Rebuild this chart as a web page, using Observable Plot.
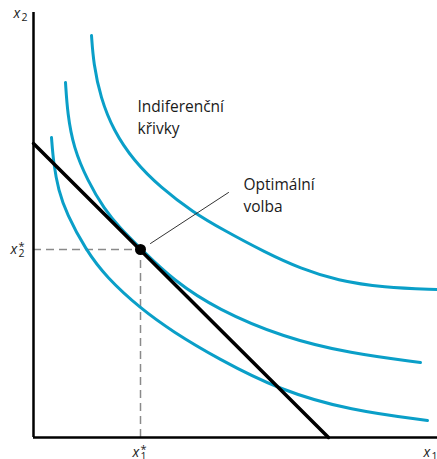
<!DOCTYPE html>
<html><head><meta charset="utf-8">
<script src="https://cdn.jsdelivr.net/npm/d3@7"></script>
<script src="https://cdn.jsdelivr.net/npm/@observablehq/plot@0.6"></script>
<style>body{margin:0;background:#fff}</style>
</head><body><div id="chart"></div>
<script>
// Indifference curves (arbitrary units)
const highX = [58, 60, 67, 80, 100, 127, 160, 189, 232, 267, 304, 350, 404];
const highY = [402, 374, 340, 307, 277, 250, 225, 208, 185, 169, 157, 150, 148];
const midX = [32, 34, 40, 54, 71, 86, 107, 140, 184, 250, 317, 387];
const midY = [355, 324, 290, 257, 228, 210, 189, 157, 128, 100, 84, 75];
const lowX = [18, 20, 25, 33, 52, 73, 107, 139, 184, 247, 317, 394];
const lowY = [300, 274, 247, 224, 188, 160, 129, 106, 79, 47, 27, 17];
// Budget line
const budgetX = [0, 295];
const budgetY = [294, 0];
// Optimum
const optX = 107, optY = 188;
// Texts
const annoText = ["Indiferenční", "křivky", "Optimální", "volba"];
const annoX = [104, 104, 210, 210];
const annoY = [326, 304, 248, 226];
const leaderX = [117, 195];
const leaderY = [194, 245];
const axisLabels = [
  {base: "x", sub: "2", sup: "", x: -20, y: 420},
  {base: "x", sub: "2", sup: "*", x: -23, y: 184},
  {base: "x", sub: "1", sup: "*", x: 99, y: -19},
  {base: "x", sub: "1", sup: "", x: 390, y: -19}
];

const curves = [];
[[highX, highY, "high"], [midX, midY, "mid"], [lowX, lowY, "low"]].forEach(([xs, ys, k]) =>
  xs.forEach((x, i) => curves.push({x, y: ys[i], k})));
const budget = budgetX.map((x, i) => ({x, y: budgetY[i]}));
const anno = annoText.map((t, i) => ({t, x: annoX[i], y: annoY[i]}));
const leader = leaderX.map((x, i) => ({x, y: leaderY[i]}));

const FONT = "'Open Sans', sans-serif";
const BLUE = "#0a9fc8";

const chart = Plot.plot({
  width: 437, height: 459,
  marginLeft: 33, marginRight: 0, marginTop: 12, marginBottom: 22,
  x: {domain: [0, 404], axis: null},
  y: {domain: [0, 425], axis: null},
  style: {background: "#fff", fontFamily: FONT, overflow: "visible"},
  marks: [
    Plot.ruleY([optY], {x1: 0, x2: optX, stroke: "#8a8a8a", strokeWidth: 1.5, strokeDasharray: "8,5"}),
    Plot.ruleX([optX], {y1: 0, y2: optY, stroke: "#8a8a8a", strokeWidth: 1.5, strokeDasharray: "8,5"}),
    Plot.line(curves, {x: "x", y: "y", z: "k", stroke: BLUE, strokeWidth: 3, curve: "basis"}),
    Plot.line(budget, {x: "x", y: "y", stroke: "#000", strokeWidth: 3.5}),
    Plot.line(leader, {x: "x", y: "y", stroke: "#333", strokeWidth: 1}),
    Plot.dot([{x: optX, y: optY}], {x: "x", y: "y", r: 5.5, fill: "#000"}),
    Plot.ruleX([0], {y1: 0, y2: 425, stroke: "#000", strokeWidth: 2.5}),
    Plot.ruleY([0], {x1: 0, x2: 404, stroke: "#000", strokeWidth: 2.5}),
    Plot.text(anno, {x: "x", y: "y", text: "t", textAnchor: "start", lineAnchor: "bottom", fontSize: 15.5, fill: "#1a1a1a", fontFamily: FONT}),
    Plot.text(axisLabels, {x: "x", y: "y", text: "base", textAnchor: "start", lineAnchor: "bottom", fontSize: 14, fontStyle: "italic", fill: "#1a1a1a", fontFamily: FONT}),
    Plot.text(axisLabels, {x: "x", y: "y", text: "sub", textAnchor: "start", lineAnchor: "bottom", fontSize: 10.5, dx: 8, dy: 3, fill: "#1a1a1a", fontFamily: FONT}),
    Plot.text(axisLabels, {x: "x", y: "y", text: "sup", textAnchor: "start", lineAnchor: "bottom", fontSize: 11, dx: 8, dy: -4, fill: "#1a1a1a", fontFamily: FONT})
  ]
});
document.getElementById("chart").append(chart);
</script>
</body></html>
